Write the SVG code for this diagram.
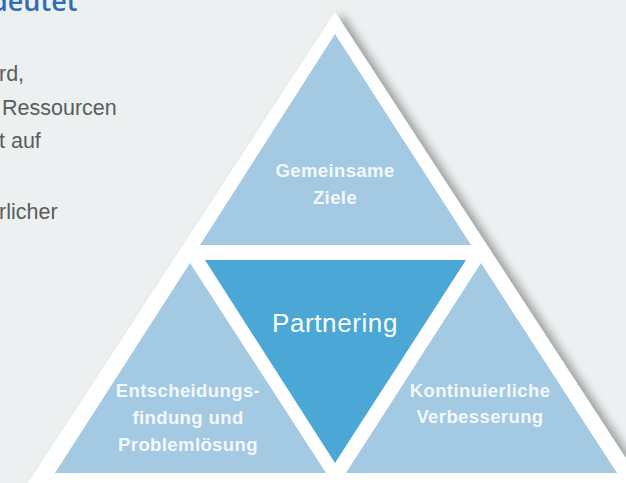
<svg xmlns="http://www.w3.org/2000/svg" width="626" height="483" viewBox="0 0 626 483">
<defs>
<filter id="shadow" x="-20%" y="-20%" width="140%" height="140%">
<feGaussianBlur in="SourceAlpha" stdDeviation="5"/>
<feOffset dx="7" dy="2" result="b"/>
<feComponentTransfer><feFuncA type="linear" slope="0.35"/></feComponentTransfer>
<feMerge><feMergeNode/><feMergeNode in="SourceGraphic"/></feMerge>
</filter>
</defs>
<style>
.body{font-family:"Liberation Sans",Arial,sans-serif;font-size:21.5px;fill:#5c5c5c}
.title{font-family:"Open Sans","Liberation Sans",sans-serif;font-size:27px;fill:#2f6db3;font-weight:600}
.light{fill:#a3c9e3}
.dark{fill:#4aa7d6}
.lbl{font-family:"Liberation Sans",Arial,sans-serif;font-size:18.5px;font-weight:bold;fill:#f3f8fc;text-anchor:middle;letter-spacing:0.4px}
.main{font-family:"Liberation Sans",Arial,sans-serif;font-size:26px;fill:#ffffff;text-anchor:middle;letter-spacing:0.6px}
</style>
<rect width="626" height="483" fill="#ecf0f1"/>
<text class="title" x="-9" y="11">deutet</text>
<text class="body" x="-1" y="81">rd,</text>
<text class="body" x="2" y="115">Ressourcen</text>
<text class="body" x="-1" y="148">t auf</text>
<text class="body" x="-1" y="219">rlicher</text>
<polygon points="335,12 28,483 642,483" fill="#ffffff" filter="url(#shadow)"/>
<g id="ziele">
<polygon class="light" points="335,34 200,245 471,245"/>
<text class="lbl" x="335" y="177">Gemeinsame</text>
<text class="lbl" x="335" y="204">Ziele</text>
</g>
<g id="partnering">
<polygon class="dark" points="205,260 466,260 335,463"/>
<text class="main" x="335" y="332">Partnering</text>
</g>
<g id="entscheidung">
<polygon class="light" points="190,263 55,473 326,473"/>
<text class="lbl" x="188" y="397">Entscheidungs-</text>
<text class="lbl" x="188" y="424">findung und</text>
<text class="lbl" x="188" y="451">Problemlösung</text>
</g>
<g id="verbesserung">
<polygon class="light" points="481,263 346,473 617,473"/>
<text class="lbl" x="480" y="397">Kontinuierliche</text>
<text class="lbl" x="480" y="423">Verbesserung</text>
</g>
<g id="connectors"/>
</svg>
